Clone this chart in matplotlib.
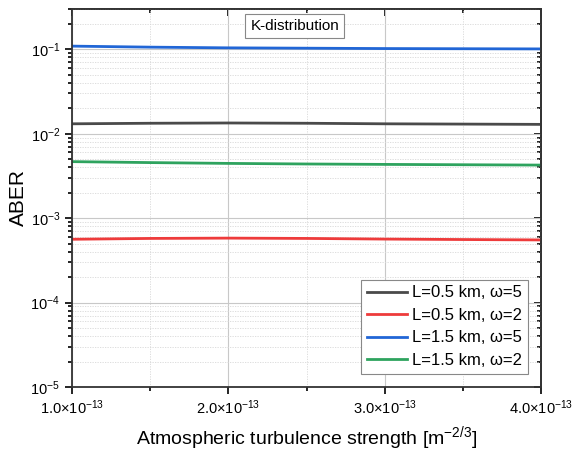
import numpy as np
import matplotlib.pyplot as plt
from matplotlib.ticker import FixedLocator, LogLocator, NullFormatter

# Turbulence strength Cn^2 [m^-2/3]
cn2 = [1.0e-13, 1.5e-13, 2.0e-13, 2.5e-13, 3.0e-13, 3.5e-13, 4.0e-13]

# ABER for each link length / omega
aber_l05_w5 = [0.0131, 0.0133, 0.0134, 0.0133, 0.0131, 0.0130, 0.0129]
aber_l05_w2 = [0.000562, 0.000575, 0.000580, 0.000575, 0.000565, 0.000558, 0.000552]
aber_l15_w5 = [0.109, 0.106, 0.104, 0.103, 0.102, 0.1015, 0.101]
aber_l15_w2 = [0.00467, 0.00455, 0.00445, 0.00438, 0.00433, 0.00429, 0.00425]

labels = ['L=0.5 km, ω=5', 'L=0.5 km, ω=2', 'L=1.5 km, ω=5', 'L=1.5 km, ω=2']
colors = ['#4a4a4a', '#ee3b3b', '#2166d6', '#2ea35e']
xticks = [1e-13, 2e-13, 3e-13, 4e-13]
xminor = [1.5e-13, 2.5e-13, 3.5e-13]
xticklabels = [r'1.0$\times$10$^{-13}$', r'2.0$\times$10$^{-13}$',
               r'3.0$\times$10$^{-13}$', r'4.0$\times$10$^{-13}$']

plt.rcParams['font.family'] = ['Liberation Sans', 'DejaVu Sans']
plt.rcParams['mathtext.fontset'] = 'custom'
plt.rcParams['mathtext.rm'] = 'Liberation Sans'
plt.rcParams['mathtext.it'] = 'Liberation Sans:italic'

fig = plt.figure(figsize=(5.72, 4.51), dpi=100)
ax = fig.add_axes([72 / 572, 1 - 387 / 451, (541 - 72) / 572, (387 - 9) / 451])

for y, lab, c in zip([aber_l05_w5, aber_l05_w2, aber_l15_w5, aber_l15_w2], labels, colors):
    ax.plot(cn2, y, color=c, lw=2.0, label=lab)

ax.set_yscale('log')
ax.set_xlim(1e-13, 4e-13)
ax.set_ylim(1e-5, 0.3)

ax.xaxis.set_major_locator(FixedLocator(xticks))
ax.set_xticklabels(xticklabels, fontsize=10.5)
ax.xaxis.set_minor_locator(FixedLocator(xminor))
ax.yaxis.set_major_locator(LogLocator(base=10, numticks=10))
ax.yaxis.set_minor_locator(LogLocator(base=10, subs=np.arange(2, 10), numticks=20))
ax.yaxis.set_minor_formatter(NullFormatter())
ax.tick_params(axis='y', labelsize=10.5)

ax.grid(True, which='major', color='#c8c8c8', lw=0.8)
ax.grid(True, which='minor', color='#d8d8d8', lw=0.6, ls=(0, (1.5, 1.5)))

# bottom/left ticks point out, top/right ticks point in
ax.tick_params(which='both', direction='out', width=1.2)
ax.tick_params(which='major', length=5)
ax.tick_params(which='minor', length=3)

top = ax.secondary_xaxis('top')
top.xaxis.set_major_locator(FixedLocator(xticks))
top.xaxis.set_minor_locator(FixedLocator(xminor))
top.tick_params(which='both', direction='in', labeltop=False, width=1.2)

right = ax.secondary_yaxis('right')
right.yaxis.set_major_locator(LogLocator(base=10, numticks=10))
right.yaxis.set_minor_locator(LogLocator(base=10, subs=np.arange(2, 10), numticks=20))
right.tick_params(which='both', direction='in', labelright=False, width=1.2)

for a in (top, right):
    a.tick_params(which='major', length=5)
    a.tick_params(which='minor', length=3)
    for sp in a.spines.values():
        sp.set_linewidth(1.3)
        sp.set_color('#333333')
for sp in ax.spines.values():
    sp.set_linewidth(1.3)
    sp.set_color('#333333')

ax.set_xlabel('Atmospheric turbulence strength [m$^{-2/3}$]', fontsize=14, labelpad=5)
ax.set_ylabel('ABER', fontsize=15, labelpad=2)

ax.text(0.475, 0.955, 'K-distribution', transform=ax.transAxes, ha='center', va='center',
        fontsize=11, bbox=dict(boxstyle='square,pad=0.35', fc='white', ec='#888888', lw=0.8))

leg = ax.legend(loc='lower right', fontsize=12, fancybox=False, edgecolor='#888888',
                framealpha=1, handlelength=2.4, borderpad=0.35, labelspacing=0.45,
                handletextpad=0.3, borderaxespad=0.8)
leg.get_frame().set_linewidth(0.8)

fig.savefig('out.png', dpi=100)
